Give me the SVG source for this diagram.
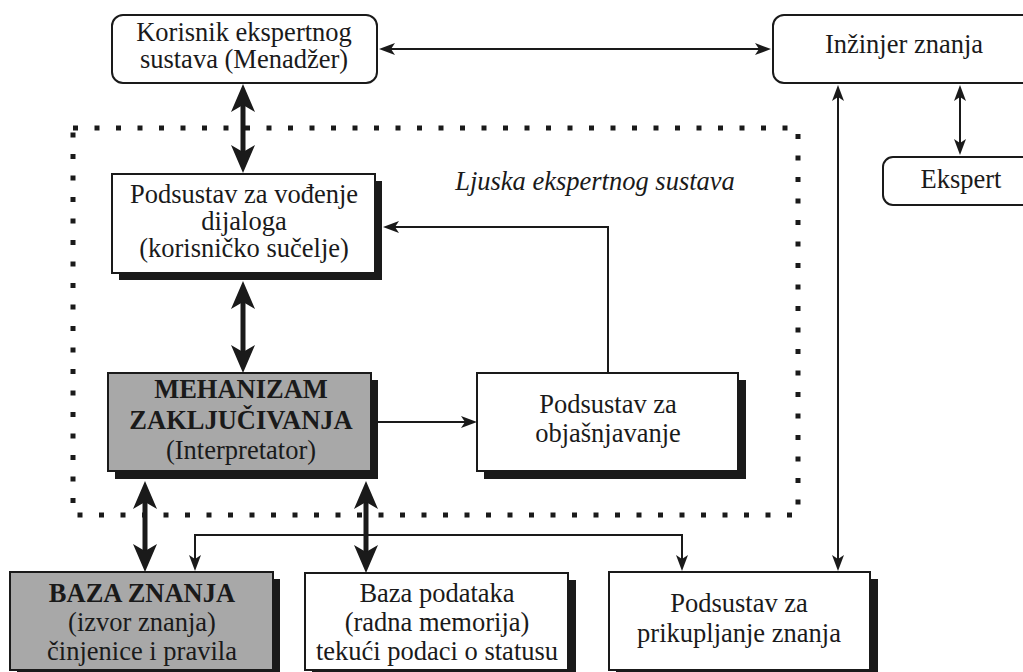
<svg xmlns="http://www.w3.org/2000/svg" width="1023" height="672" viewBox="0 0 1023 672">
  <style>
    .box { fill: #ffffff; stroke: #1a1a1a; stroke-width: 2; }
    .grey { fill: #a8a8a8; }
    .shadow { fill: #1a1a1a; }
    .t { font-family: "Liberation Serif", "Times New Roman", serif; font-size: 26.5px; fill: #1a1a1a; text-anchor: middle; }
    .b { font-weight: bold; }
    .i { font-style: italic; }
    .thin { fill: none; stroke: #1a1a1a; stroke-width: 2; }
    .thick { fill: none; stroke: #1a1a1a; stroke-width: 5; }
    .dots { fill: none; stroke: #1a1a1a; stroke-width: 5; stroke-dasharray: 5 16.5; }
  </style>
  <defs>
    <marker id="headThin" viewBox="0 0 16 12" refX="12" refY="6" markerWidth="16" markerHeight="12" markerUnits="userSpaceOnUse" orient="auto-start-reverse">
      <path d="M0,0 L16,6 L0,12 L4,6 Z" fill="#1a1a1a"/>
    </marker>
    <marker id="headThick" viewBox="0 0 28 24" refX="18" refY="12" markerWidth="28" markerHeight="24" markerUnits="userSpaceOnUse" orient="auto-start-reverse">
      <path d="M0,0 L28,12 L0,24 L7,12 Z" fill="#1a1a1a"/>
    </marker>
  </defs>

  <rect width="1023" height="672" fill="#ffffff"/>

  <!-- shell boundary -->
  <g id="shell">
    <rect class="dots" x="73" y="128" width="725" height="387"/>
    <text class="t i" x="595" y="190">Ljuska ekspertnog sustava</text>
  </g>

  <g id="korisnik">
    <rect class="box" x="112" y="15" width="265" height="68" rx="11"/>
    <text class="t" x="244" y="41">Korisnik ekspertnog</text>
    <text class="t" x="244" y="68">sustava (Menadžer)</text>
  </g>

  <g id="inzinjer">
    <rect class="box" x="773" y="15" width="262" height="68" rx="11"/>
    <text class="t" x="904" y="53">Inžinjer znanja</text>
  </g>

  <g id="ekspert">
    <rect class="box" x="883" y="157" width="152" height="48" rx="10"/>
    <text class="t" x="961" y="188">Ekspert</text>
  </g>

  <g id="dijalog">
    <rect class="shadow" x="119" y="181" width="263" height="99"/>
    <rect class="box" x="112" y="174" width="263" height="99"/>
    <text class="t" x="244" y="203">Podsustav za vođenje</text>
    <text class="t" x="244" y="230">dijaloga</text>
    <text class="t" x="244" y="257">(korisničko sučelje)</text>
  </g>

  <g id="mehanizam">
    <rect class="shadow" x="115" y="380" width="263" height="99"/>
    <rect class="box grey" x="108" y="373" width="263" height="98"/>
    <text class="t b" x="241" y="398">MEHANIZAM</text>
    <text class="t b" x="241" y="429">ZAKLJUČIVANJA</text>
    <text class="t" x="241" y="459">(Interpretator)</text>
  </g>

  <g id="objasnjavanje">
    <rect class="shadow" x="484" y="380" width="262" height="99"/>
    <rect class="box" x="477" y="373" width="261" height="98"/>
    <text class="t" x="608" y="413">Podsustav za</text>
    <text class="t" x="608" y="442">objašnjavanje</text>
  </g>

  <g id="baza-znanja">
    <rect class="shadow" x="17" y="579" width="263" height="98"/>
    <rect class="box grey" x="10" y="572" width="263" height="98"/>
    <text class="t b" x="142" y="602">BAZA ZNANJA</text>
    <text class="t" x="142" y="631">(izvor znanja)</text>
    <text class="t" x="142" y="660">činjenice i pravila</text>
  </g>

  <g id="baza-podataka">
    <rect class="shadow" x="312" y="580" width="264" height="97"/>
    <rect class="box" x="305" y="573" width="263" height="97"/>
    <text class="t" x="437" y="602">Baza podataka</text>
    <text class="t" x="437" y="631">(radna memorija)</text>
    <text class="t" x="437" y="660">tekući podaci o statusu</text>
  </g>

  <g id="prikupljanje">
    <rect class="shadow" x="616" y="579" width="262" height="98"/>
    <rect class="box" x="609" y="572" width="261" height="98"/>
    <text class="t" x="739" y="612">Podsustav za</text>
    <text class="t" x="739" y="642">prikupljanje znanja</text>
  </g>

  <g id="connectors">
    <!-- thin two-way arrows -->
    <line class="thin" x1="383" y1="49" x2="767" y2="49" marker-start="url(#headThin)" marker-end="url(#headThin)"/>
    <line class="thin" x1="960" y1="89" x2="960" y2="151" marker-start="url(#headThin)" marker-end="url(#headThin)"/>
    <line class="thin" x1="838" y1="89" x2="838" y2="567" marker-start="url(#headThin)" marker-end="url(#headThin)"/>
    <!-- thin one-way arrows -->
    <line class="thin" x1="378" y1="422" x2="473" y2="422" marker-end="url(#headThin)"/>
    <polyline class="thin" points="608,373 608,227 387,227" marker-end="url(#headThin)"/>
    <path class="thin" d="M195,567 V535 H682 V567" marker-start="url(#headThin)" marker-end="url(#headThin)"/>
    <!-- thick two-way arrows -->
    <line class="thick" x1="243" y1="94" x2="243" y2="163" marker-start="url(#headThick)" marker-end="url(#headThick)"/>
    <line class="thick" x1="243" y1="291" x2="243" y2="363" marker-start="url(#headThick)" marker-end="url(#headThick)"/>
    <line class="thick" x1="145" y1="491" x2="145" y2="562" marker-start="url(#headThick)" marker-end="url(#headThick)"/>
    <line class="thick" x1="366" y1="491" x2="366" y2="563" marker-start="url(#headThick)" marker-end="url(#headThick)"/>
  </g>
</svg>
